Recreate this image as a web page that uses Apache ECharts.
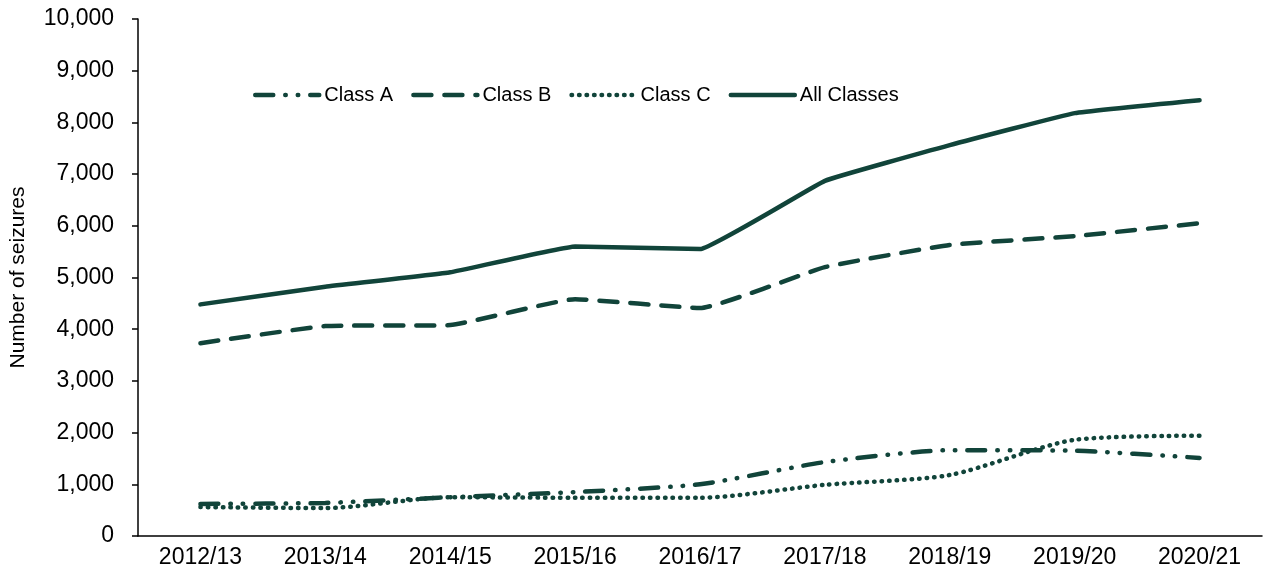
<!DOCTYPE html>
<html>
<head>
<meta charset="utf-8">
<script src="https://cdn.jsdelivr.net/npm/echarts@6/dist/echarts.min.js"></script>
<style>
  html, body { margin: 0; padding: 0; background: #fff; }
  #chart { width: 1268px; height: 577px; }
</style>
</head>
<body>
<div id="chart"></div>
<script>
// values
var years = ['2012/13', '2013/14', '2014/15', '2015/16', '2016/17', '2017/18', '2018/19', '2019/20', '2020/21'];
var classA = [620, 640, 750, 850, 1000, 1430, 1660, 1650, 1510];
var classB = [3730, 4060, 4080, 4580, 4410, 5200, 5630, 5800, 6050];
var classC = [560, 540, 750, 740, 740, 990, 1180, 1860, 1940];
var allClasses = [4480, 4820, 5100, 5600, 5550, 6870, 7560, 8180, 8430];

var green = '#11443a';
var font = 'Liberation Sans, Arial, sans-serif';

var dashA = [18, 12, 0.5, 12, 0.5, 12];
var dashB = [18, 13];
var dashC = [0.5, 7];

function makeSeries(name, data, dash, smooth) {
  return {
    name: name,
    type: 'line',
    data: data,
    smooth: smooth,
    symbol: 'none',
    lineStyle: {
      color: green,
      width: 4.5,
      type: dash,
      cap: 'round',
    },
    itemStyle: { color: green },
  };
}

function legendItem(name, dash) {
  return {
    name: name,
    itemStyle: { opacity: 0 },
    lineStyle: { color: green, width: 4.5, type: dash, cap: 'round' },
  };
}

var chart = echarts.init(document.getElementById('chart'));
chart.setOption({
  animation: false,
  textStyle: { fontFamily: font, color: '#000' },
  grid: { left: 136, right: 6, top: 19, bottom: 41 },
  legend: {
    left: 248,
    top: 80,
    itemWidth: 64,
    itemHeight: 14,
    itemGap: 18,
    textStyle: { fontFamily: font, fontSize: 20, color: '#000' },
    data: [
      legendItem('Class A', dashA),
      legendItem('Class B', dashB),
      legendItem('Class C', dashC),
      legendItem('All Classes', 'solid'),
    ],
  },
  xAxis: {
    type: 'category',
    data: years,
    axisLine: { lineStyle: { color: '#000', width: 1.5 } },
    axisTick: { length: 7, lineStyle: { color: '#000', width: 1.5 } },
    axisLabel: { fontSize: 23, color: '#000', margin: 10 },
  },
  yAxis: {
    type: 'value',
    min: 0,
    max: 10000,
    interval: 1000,
    name: 'Number of seizures',
    nameLocation: 'middle',
    nameGap: 109,
    nameTextStyle: { fontSize: 21, color: '#000' },
    splitLine: { show: false },
    axisLine: { show: true, lineStyle: { color: '#000', width: 1.5 } },
    axisTick: { show: true, length: 6, lineStyle: { color: '#000', width: 1.5 } },
    axisLabel: {
      fontSize: 23,
      color: '#000',
      margin: 24,
      formatter: function (v) { return v.toLocaleString('en-US'); },
    },
  },
  series: [
    makeSeries('Class A', classA, dashA, 0.2),
    makeSeries('Class B', classB, dashB, 0.12),
    makeSeries('Class C', classC, dashC, 0.25),
    makeSeries('All Classes', allClasses, 'solid', 0.08),
  ],
});
</script>
</body>
</html>
